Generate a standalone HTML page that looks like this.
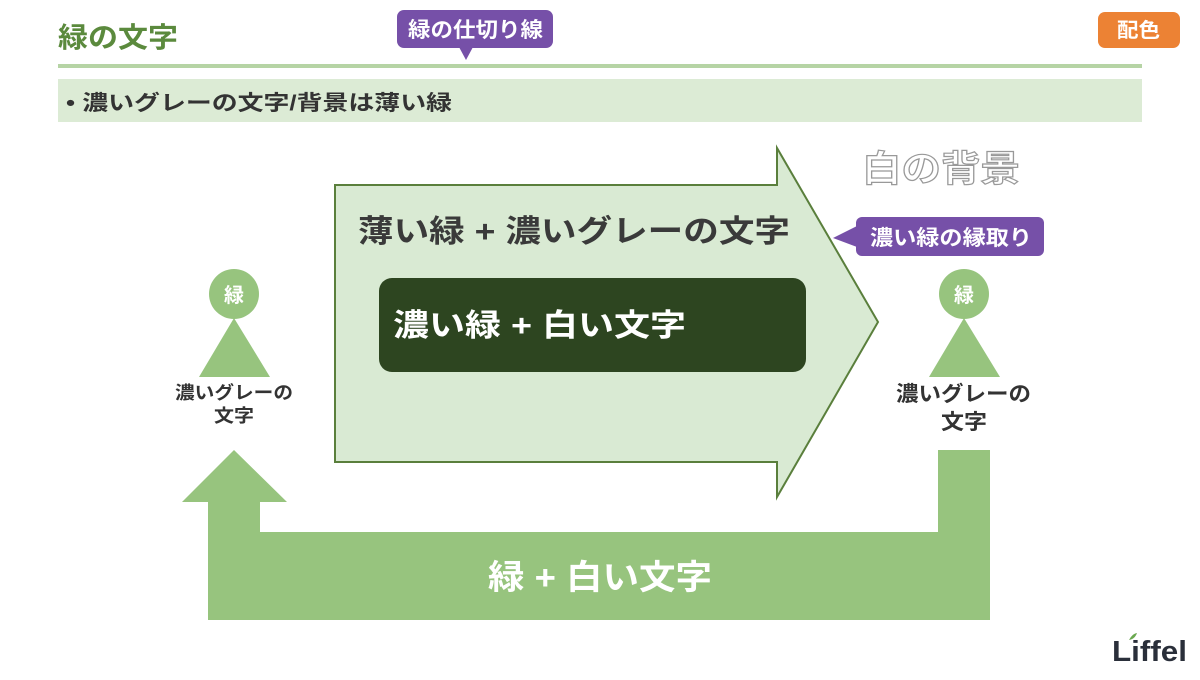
<!DOCTYPE html>
<html><head><meta charset="utf-8"><style>
body{margin:0;width:1200px;height:675px;overflow:hidden;background:#fff;font-family:"Liberation Sans","Noto Sans CJK JP",sans-serif}
svg text{font-family:"Liberation Sans","Noto Sans CJK JP",sans-serif;font-weight:bold}
</style></head><body>
<svg width="1200" height="675" viewBox="0 0 1200 675">
<text x="58" y="47" font-size="28" fill="#5b8a3d" textLength="120" lengthAdjust="spacingAndGlyphs">緑の文字</text>
<rect x="397" y="10" width="156" height="38" rx="7" fill="#7650a8"/>
<polygon points="459,47 473,47 466,60" fill="#7650a8"/>
<text x="408" y="37" font-size="21" fill="#fff" font-weight="normal" textLength="135" lengthAdjust="spacingAndGlyphs">緑の仕切り線</text>
<rect x="1098" y="12" width="82" height="36" rx="7" fill="#ec8234"/>
<text x="1117" y="37" font-size="20" fill="#fff" textLength="43" lengthAdjust="spacingAndGlyphs">配色</text>
<rect x="58" y="64" width="1084" height="4" fill="#b6d4a5"/>
<rect x="58" y="79" width="1084" height="43" fill="#dcebd5"/>
<text x="66" y="110" font-size="21" fill="#333" textLength="386" lengthAdjust="spacingAndGlyphs">•  濃いグレーの文字/背景は薄い緑</text>
<polygon points="335,185 777,185 777,148 878,322 777,497 777,462 335,462" fill="#d9ead3" stroke="#5a7f3c" stroke-width="2"/>
<text x="358" y="242" font-size="31" fill="#3a3a3a" textLength="432" lengthAdjust="spacingAndGlyphs">薄い緑 + 濃いグレーの文字</text>
<rect x="379" y="278" width="427" height="94" rx="13" fill="#2d4520"/>
<text x="393" y="336" font-size="31" fill="#fff" textLength="293" lengthAdjust="spacingAndGlyphs">濃い緑 + 白い文字</text>
<text x="862" y="181" font-size="36" fill="#fff" stroke="#999" stroke-width="1.2" font-weight="normal" textLength="158" lengthAdjust="spacingAndGlyphs">白の背景</text>
<rect x="856" y="217" width="188" height="39" rx="6" fill="#7650a8"/>
<polygon points="857,226 857,247 833,238" fill="#7650a8"/>
<text x="870" y="245" font-size="21" fill="#fff" font-weight="normal" textLength="162" lengthAdjust="spacingAndGlyphs">濃い緑の縁取り</text>
<g fill="#97c47e">
<circle cx="234" cy="294" r="25"/><polygon points="234,318 199,377 270,377"/>
<circle cx="964" cy="294" r="25"/><polygon points="964,318 929,377 1000,377"/>
<polygon points="234,450 287,502 260,502 260,532 938,532 938,450 990,450 990,620 208,620 208,502 182,502"/>
</g>
<text x="234" y="302" font-size="20" fill="#fff" text-anchor="middle" font-weight="normal">緑</text>
<text x="964" y="302" font-size="20" fill="#fff" text-anchor="middle" font-weight="normal">緑</text>
<text x="175" y="399" font-size="18" fill="#333" textLength="118" lengthAdjust="spacingAndGlyphs">濃いグレーの</text>
<text x="214" y="422" font-size="18" fill="#333" textLength="40" lengthAdjust="spacingAndGlyphs">文字</text>
<text x="896" y="401" font-size="21" fill="#333" textLength="135" lengthAdjust="spacingAndGlyphs">濃いグレーの</text>
<text x="941" y="429" font-size="21" fill="#333" textLength="46" lengthAdjust="spacingAndGlyphs">文字</text>
<text x="488" y="589" font-size="34" fill="#fff" textLength="224" lengthAdjust="spacingAndGlyphs">緑 + 白い文字</text>
<text x="1112" y="661" font-size="29" fill="#2a2f3a" font-weight="normal" textLength="75" lengthAdjust="spacingAndGlyphs">Liffel</text>
<path d="M1129,640 q3,-6 8,-7 q-2,6 -8,7z" fill="#6aa84f"/>
</svg>
</body></html>
